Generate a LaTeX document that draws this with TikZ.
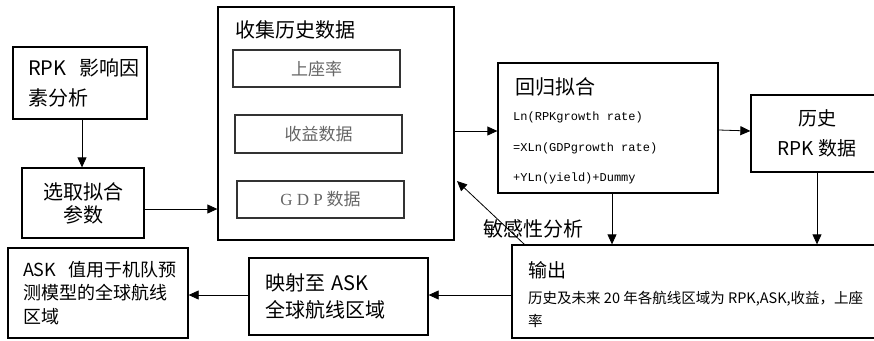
\documentclass[tikz,border=0pt]{standalone}
\usepackage{fontspec}
\setmainfont{Noto Sans CJK SC}
\newfontfamily\mono{Liberation Mono}
\newfontfamily\serifl{Liberation Serif}
\usetikzlibrary{arrows.meta,positioning,calc}

\tikzset{
  box/.style={draw, line width=1.3pt, inner sep=0pt},
  subbox/.style={draw=black!80, line width=1.1pt, inner sep=0pt,
    minimum width=167, text=black!60, font=\fontsize{17}{20}\selectfont},
  arr/.style={line width=0.8pt, -{Triangle[length=10pt,width=9pt]}},
  big/.style={font=\fontsize{20}{30}\selectfont}
}

\begin{document}
\begin{tikzpicture}[x=1pt, y=-1pt]
    \useasboundingbox (0,0) rectangle (874,340);

    % left column
    \node [box, big, minimum width=134, minimum height=72, inner xsep=15pt,
      text width=104, align=left] (rpk) at (80,83) {\mbox{RPK\ \ 影响因}\\素分析};
    \node [box, minimum width=122, minimum height=70, align=center,
      font=\fontsize{20}{23}\selectfont] (fit) at (83,203) {选取拟合\\参数};

    % collected data
    \node [box, minimum width=236, minimum height=233] (hist) at (336,123.5) {};
    \node [big, anchor=west, inner sep=0pt] (histT) at (235,30) {收集历史数据};
    \node [subbox, minimum height=37] (seat) at (316.5,68.5) {上座率};
    \node [subbox, minimum height=38] (yield) at (318.5,134) {收益数据};
    \node [subbox, minimum height=37] (gdp) at (320.5,199.5)
      {{\serifl\addfontfeature{LetterSpace=25}GDP} 数据};

    % regression
    \node [box, minimum width=220, minimum height=130] (regr) at (608,128) {};
    \node [big, anchor=west, inner sep=0pt] (regrT) at (515,87) {回归拟合};
    \node [anchor=west, inner sep=0pt, align=left,
      font=\mono\fontsize{12}{30.5}\selectfont] (eq) at (513,148)
      {Ln(RPKgrowth rate)\\=XLn(GDPgrowth rate)\\+YLn(yield)+Dummy};

    \node [box, minimum width=132, minimum height=77, align=center,
      font=\fontsize{19}{30}\selectfont] (rpkdata) at (817,133.5) {历史\\RPK 数据};

    % output row
    \node [box, minimum width=372, minimum height=93] (out) at (698,291.5) {};
    \node [anchor=west, inner sep=0pt, font=\fontsize{19}{22}\selectfont]
      (outT) at (528,270) {输出};
    \node [anchor=west, inner sep=0pt, align=left,
      font=\fontsize{14.5}{23}\selectfont] (outD) at (528,309.5)
      {历史及未来 20 年各航线区域为 RPK,ASK,收益，上座\\率};

    \node [box, minimum width=179, minimum height=77, inner xsep=16pt,
      text width=147, align=left, font=\fontsize{20}{27}\selectfont]
      (map) at (338.5,296.5) {映射至 ASK\\全球航线区域};
    \node [box, minimum width=180, minimum height=90, inner xsep=15pt,
      text width=150, align=left, font=\fontsize{18}{23.5}\selectfont]
      (ask) at (98,293) {\mbox{ASK\ \ 值用于机队预}\\\mbox{测模型的全球航线}\\区域};

    % connectors
    \draw [arr] ([xshift=2pt]rpk.south) -- ([xshift=2pt]rpk.south |- fit.north);
    \draw [arr] ([yshift=-6pt]fit.east) -- ([yshift=-6pt]fit.east -| hist.west);
    \draw [arr] ([yshift=-3pt]regr.west -| hist.east) -- ([yshift=-3pt]regr.west);
    \draw [arr] ([yshift=-2pt]regr.east) -- ([yshift=-3pt]regr.east -| rpkdata.west);
    \draw [arr] ([xshift=4pt]regr.south) -- ([xshift=4pt]regr.south |- out.north);
    \draw [arr] (rpkdata.south) -- (rpkdata.south |- out.north);
    \draw [arr] ([yshift=1.5pt]map.east -| out.west) -- ([yshift=1.5pt]map.east);
    \draw [arr] ([yshift=1.5pt]map.west) -- ([yshift=1.5pt]map.west -| ask.east);

    \coordinate (sens) at (457,181);
    \draw [arr] ([xshift=13pt]out.north west) -- (sens);
    \node [big, inner sep=0pt] (sensT) at (533,229) {敏感性分析};
\end{tikzpicture}
\end{document}
